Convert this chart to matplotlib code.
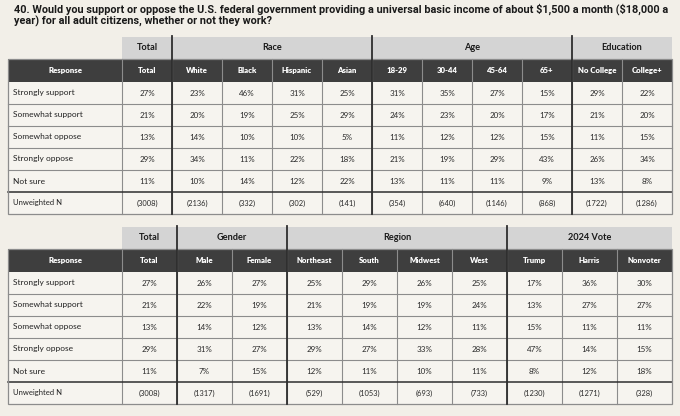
import matplotlib.pyplot as plt
from matplotlib.patches import Rectangle

# data
responses = ['Strongly support', 'Somewhat support', 'Somewhat oppose', 'Strongly oppose', 'Not sure']

top_groups = [('Total', 1), ('Race', 4), ('Age', 4), ('Education', 2)]
top_cols = ['Total', 'White', 'Black', 'Hispanic', 'Asian', '18-29', '30-44', '45-64', '65+', 'No College', 'College+']
top_vals = [
    [27, 23, 46, 31, 25, 31, 35, 27, 15, 29, 22],
    [21, 20, 19, 25, 29, 24, 23, 20, 17, 21, 20],
    [13, 14, 10, 10, 5, 11, 12, 12, 15, 11, 15],
    [29, 34, 11, 22, 18, 21, 19, 29, 43, 26, 34],
    [11, 10, 14, 12, 22, 13, 11, 11, 9, 13, 8],
]
top_n = [3008, 2136, 332, 302, 141, 354, 640, 1146, 868, 1722, 1286]

bot_groups = [('Total', 1), ('Gender', 2), ('Region', 4), ('2024 Vote', 3)]
bot_cols = ['Total', 'Male', 'Female', 'Northeast', 'South', 'Midwest', 'West', 'Trump', 'Harris', 'Nonvoter']
bot_vals = [
    [27, 26, 27, 25, 29, 26, 25, 17, 36, 30],
    [21, 22, 19, 21, 19, 19, 24, 13, 27, 27],
    [13, 14, 12, 13, 14, 12, 11, 15, 11, 11],
    [29, 31, 27, 29, 27, 33, 28, 47, 14, 15],
    [11, 7, 15, 12, 11, 10, 11, 8, 12, 18],
]
bot_n = [3008, 1317, 1691, 529, 1053, 693, 733, 1230, 1271, 328]

title = ('40. Would you support or oppose the U.S. federal government providing a universal basic income of about \\$1,500 a month (\\$18,000 a\n'
         'year) for all adult citizens, whether or not they work?')

BG = '#f2efe8'
CELL = '#f6f4ef'
GROUP = '#d4d4d4'
HEAD = '#3e3e3e'
GRID = '#8c8c8c'
SEP = '#2e2e2e'

plt.rcParams['font.family'] = ['Lato', 'DejaVu Sans']

fig = plt.figure(figsize=(6.8, 4.16), dpi=100)
fig.patch.set_facecolor(BG)
ax = fig.add_axes([0, 0, 1, 1])
ax.set_xlim(0, 680)
ax.set_ylim(416, 0)
ax.axis('off')

ax.text(14, 3, title, fontsize=7.85, fontweight='bold', family=['Roboto', 'DejaVu Sans'],
        color='#1a1a1a', va='top', ha='left', linespacing=1.1)


def draw_table(top, groups, cols, vals, n, left=8, resp_w=114, right=672, rh=22):
    x0 = left + resp_w
    cw = (right - x0) / len(cols)
    g_top = top
    h_top = top + rh
    d_top = h_top + 23
    nrows = len(vals) + 1
    bottom = d_top + rh * nrows

    # group header row
    ax.add_patch(Rectangle((x0, g_top), right - x0, rh, fc=GROUP, ec='none'))
    # dark header row
    ax.add_patch(Rectangle((left, h_top), right - left, d_top - h_top, fc=HEAD, ec='none'))
    # body
    ax.add_patch(Rectangle((left, d_top), right - left, bottom - d_top, fc=CELL, ec='none'))

    ax.text(left + resp_w / 2, (h_top + d_top) / 2, 'Response', color='white', fontsize=5.6,
            fontweight='heavy', ha='center', va='center')

    ci = 0
    seps = []
    for gname, span in groups:
        gx = x0 + ci * cw
        ax.text(gx + span * cw / 2, g_top + rh / 2, gname, color='#1a1a1a', fontsize=6.6,
                fontweight='bold', ha='center', va='center')
        ci += span
        seps.append(x0 + ci * cw)

    for j, c in enumerate(cols):
        cx = x0 + (j + 0.5) * cw
        ax.text(cx, (h_top + d_top) / 2, c, color='white', fontsize=5.6, fontweight='heavy',
                ha='center', va='center')

    for i, (label, row) in enumerate(zip(responses, vals)):
        cy = d_top + (i + 0.5) * rh
        ax.text(left + 5, cy, label, fontsize=6.0, color='#222222', ha='left', va='center')
        for j, v in enumerate(row):
            ax.text(x0 + (j + 0.5) * cw, cy, f'{v}%', fontsize=5.8, color='#2a2a2a',
                    ha='center', va='center')
    cy = d_top + (nrows - 0.5) * rh
    ax.text(left + 5, cy, 'Unweighted N', fontsize=5.5, color='#222222', ha='left', va='center')
    for j, v in enumerate(n):
        ax.text(x0 + (j + 0.5) * cw, cy, f'({v})', fontsize=5.4, color='#2a2a2a',
                ha='center', va='center')

    # grid lines in body
    for i in range(1, nrows):
        y = d_top + i * rh
        if i == nrows - 1:
            ax.plot([left, right], [y, y], color=SEP, lw=1.1, zorder=3)
        else:
            ax.plot([left, right], [y, y], color=GRID, lw=0.8, zorder=2)
    for j in range(0, len(cols)):
        x = x0 + j * cw
        ax.plot([x, x], [h_top, bottom], color=GRID, lw=0.8, zorder=2)
    # outline
    ax.add_patch(Rectangle((left, h_top), right - left, bottom - h_top, fc='none', ec=GRID,
                           lw=0.9, zorder=3))
    # group separators
    for x in seps[:-1]:
        ax.plot([x, x], [g_top - 1, bottom], color=SEP, lw=1.3, zorder=4)


draw_table(37, top_groups, top_cols, top_vals, top_n)
draw_table(227, bot_groups, bot_cols, bot_vals, bot_n)

fig.savefig('out.png', dpi=100, facecolor=BG)
